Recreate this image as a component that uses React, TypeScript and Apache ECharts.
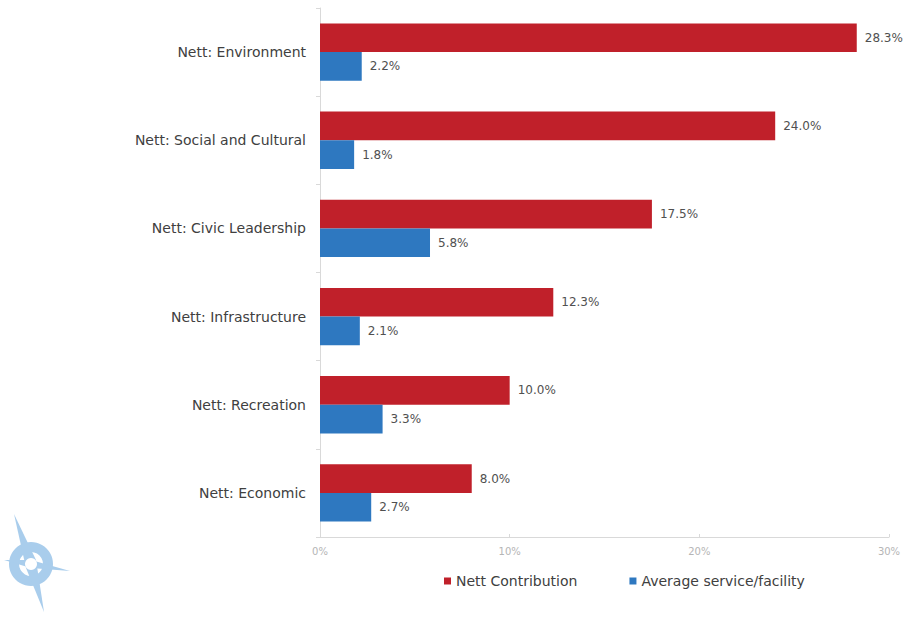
import React, { useEffect, useRef } from "react";
import * as echarts from "echarts";

const categories = [
  "Nett: Environment",
  "Nett: Social and Cultural",
  "Nett: Civic Leadership",
  "Nett: Infrastructure",
  "Nett: Recreation",
  "Nett: Economic",
];
const nettContribution = [28.3, 24.0, 17.5, 12.3, 10.0, 8.0];
const averageService = [2.2, 1.8, 5.8, 2.1, 3.3, 2.7];
const seriesNames = ["Nett Contribution", "Average service/facility"];

const FONT = "'DejaVu Sans', sans-serif";

export default function App() {
  const ref = useRef<HTMLDivElement>(null);
  useEffect(() => {
    if (!ref.current) return;
    const chart = echarts.init(ref.current, undefined, { renderer: "svg" });
    const logoColor = "#a9cdec";
    chart.setOption({
      animation: false,
      backgroundColor: "#ffffff",
      textStyle: { fontFamily: FONT },
      grid: { left: 320, right: 18, top: 8, bottom: 84, containLabel: false },
      legend: {
        bottom: 28,
        left: 439,
        itemWidth: 7,
        itemHeight: 7,
        itemGap: 52,
        icon: "rect",
        textStyle: { color: "#404040", fontSize: 14, fontFamily: FONT },
        data: seriesNames,
      },
      xAxis: {
        type: "value",
        min: 0,
        max: 30,
        interval: 10,
        axisLine: { show: true, lineStyle: { color: "#d9d9d9" } },
        axisTick: { show: true, length: 3, inside: true, lineStyle: { color: "#d9d9d9" } },
        splitLine: { show: false },
        axisLabel: { color: "#b5b5b5", fontSize: 10, formatter: "{value}%", margin: 9 },
      },
      yAxis: {
        type: "category",
        inverse: true,
        data: categories,
        axisLine: { show: true, lineStyle: { color: "#d9d9d9" } },
        axisTick: { show: true, length: 4, lineStyle: { color: "#d9d9d9" } },
        axisLabel: { color: "#404040", fontSize: 14, margin: 14 },
      },
      series: [
        {
          name: seriesNames[0],
          type: "bar",
          data: nettContribution,
          barGap: "0%",
          barCategoryGap: "35%",
          itemStyle: { color: "#c0202a" },
          label: {
            show: true,
            position: "right",
            formatter: (p: any) => p.value.toFixed(1) + "%",
            color: "#505050",
            fontSize: 12,
            distance: 8,
          },
        },
        {
          name: seriesNames[1],
          type: "bar",
          data: averageService,
          itemStyle: { color: "#2e78c0" },
          label: {
            show: true,
            position: "right",
            formatter: (p: any) => p.value.toFixed(1) + "%",
            color: "#505050",
            fontSize: 12,
            distance: 8,
          },
        },
      ],
      graphic: [
        {
          type: "ring",
          shape: { cx: 31, cy: 564, r: 22, r0: 12 },
          style: { fill: logoColor },
        },
        {
          type: "polygon",
          shape: { points: [[14, 514], [36, 560], [44, 612], [26, 568]] },
          style: { fill: logoColor },
        },
        {
          type: "polygon",
          shape: { points: [[4, 560], [31, 560], [70, 571], [31, 568]] },
          style: { fill: logoColor },
        },
        {
          type: "circle",
          shape: { cx: 31, cy: 564, r: 6 },
          style: { fill: "#ffffff" },
        },
      ],
    });
    return () => chart.dispose();
  }, []);
  return <div ref={ref} style={{ width: 907, height: 621, position: "absolute", left: 0, top: 0 }} />;
}
